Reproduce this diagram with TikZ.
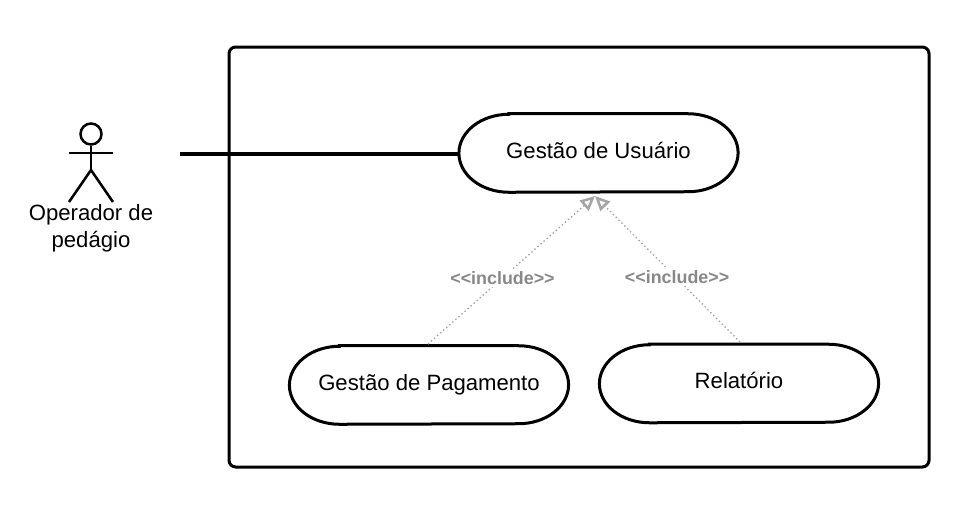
\documentclass[tikz,border=0pt]{standalone}
\usepackage{fontspec}
\setmainfont{Liberation Sans}
\usetikzlibrary{arrows.meta}
\definecolor{includegray}{RGB}{136,136,136}
\definecolor{tipgray}{RGB}{165,165,165}
\tikzset{
  usecase/.style={minimum width=209pt, minimum height=58.5pt, text height=12pt, text depth=4.5pt, font=\fontsize{16.6}{20}\selectfont},
  usecaseline/.style={line width=2.25pt},
  includeedge/.style={draw=tipgray, line width=1.05pt, dotted, -{Triangle[open, length=11pt, width=10pt, line width=1.9pt, color=tipgray]}},
  includelabel/.style={fill=white, text=includegray, inner sep=1.5pt, font=\fontsize{13.4}{15}\selectfont\bfseries},
  actorline/.style={line width=1.9pt},
}
\begin{document}
\begin{tikzpicture}[x=0.75pt, y=-0.75pt]
  \useasboundingbox (0,0) rectangle (974,518);
  % system frame
  \draw[line width=2.25pt, rounded corners=5pt] (229,47) rectangle (929,467);
  % actor
  \node[draw, circle, line width=1.9pt, minimum size=15.75pt, inner sep=0pt] (head) at (91,134) {};
  \coordinate (hip) at (91,170);
  \coordinate (armL) at (69,153);
  \coordinate (armR) at (113,153);
  \coordinate (footL) at (69,202);
  \coordinate (footR) at (113,202);
  \draw[actorline] (head) -- (hip);
  \draw[actorline] (armL) -- (armR);
  \draw[actorline] (footL) -- (hip) -- (footR);
  \node[align=center, font=\fontsize{16.6}{20.25}\selectfont] (operador) at (91,228.5) {Operador de\\pedágio};
  % use cases
  \node[usecase] (usuario) at (598.5,153) {Gestão de Usuário};
  \node[usecase] (pagamento) at (429,385) {Gestão de Pagamento};
  \node[usecase] (relatorio) at (739,383.5) {Relatório};
  \foreach \n in {usuario,pagamento,relatorio}
    \draw[usecaseline] ([xshift=37.5pt]\n.north west) -- ([xshift=-37.5pt]\n.north east)
      arc[start angle=90, end angle=-90, x radius=37.5pt, y radius=29.25pt]
      -- ([xshift=37.5pt]\n.south west)
      arc[start angle=270, end angle=90, x radius=37.5pt, y radius=29.25pt] -- cycle;
  % connectors
  \coordinate (start) at (180,154);
  \coordinate (tip) at (595,196);
  \coordinate (pagFoot) at (428,344);
  \coordinate (relFoot) at (740,342);
  \draw[line width=3pt] (start) -- (start -| usuario.west);
  \draw[includeedge] (pagFoot) -- node[includelabel, pos=0.446] (incA) {{<}{<}include{>}{>}} (tip);
  \draw[includeedge] (relFoot) -- node[includelabel, pos=0.445, xshift=1.2pt] (incB) {{<}{<}include{>}{>}} (tip);
\end{tikzpicture}
\end{document}
